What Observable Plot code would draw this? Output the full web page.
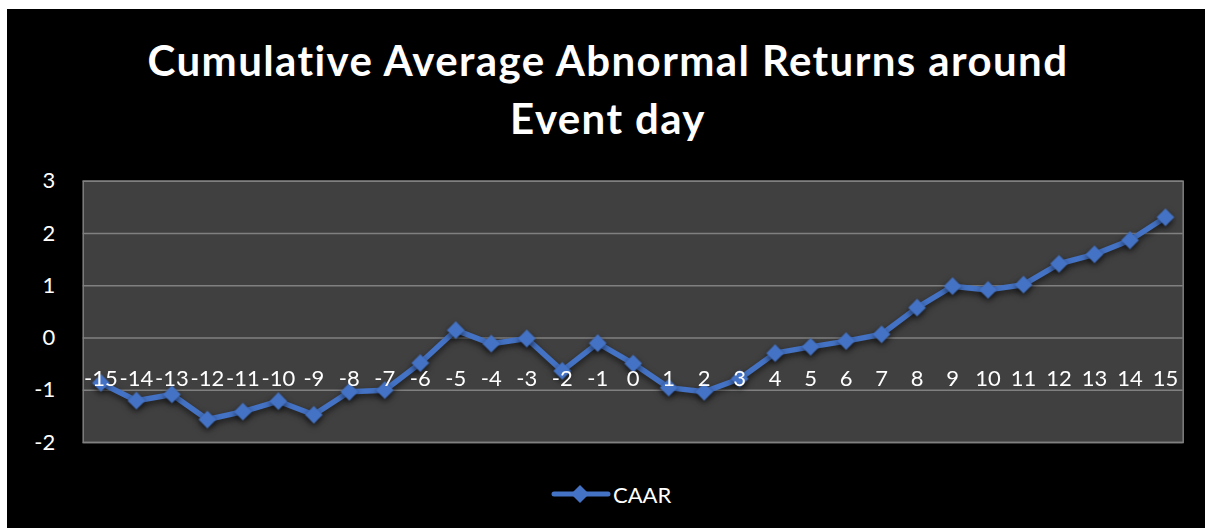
<!DOCTYPE html>
<html>
<head>
<meta charset="utf-8">
<script src="https://cdn.jsdelivr.net/npm/d3@7"></script>
<script src="https://cdn.jsdelivr.net/npm/@observablehq/plot@0.6"></script>
<style>
  html, body { margin: 0; padding: 0; background: #ffffff; }
  #page { position: relative; width: 1205px; height: 528px; overflow: hidden; background: #ffffff; }
  #bg { position: absolute; left: 7px; top: 9px; width: 1198px; height: 519px; background: #000000; }
  #title { position: absolute; left: 7px; width: 1202px; top: 31px; text-align: center;
           font-family: Lato, "Open Sans", sans-serif; font-weight: bold; font-size: 42px;
           letter-spacing: 1.4px; line-height: 58px; color: #ffffff; }
  #chart { position: absolute; left: 0; top: 0; }
  #legend { position: absolute; left: 551px; top: 480px; height: 28px; display: flex; align-items: center;
            font-family: Lato, "Open Sans", sans-serif; font-size: 22px; color: #ffffff; }
  #chart g[aria-label="line"], #chart g[aria-label="dot"] { filter: drop-shadow(0px 3px 3px rgba(0,0,0,0.6)); }
</style>
</head>
<body>
<div id="page">
  <div id="bg"></div>
  <div id="chart"></div>
  <div id="title">Cumulative Average Abnormal Returns around<br>Event day</div>
  <div id="legend"></div>
</div>
<script>
const days = [-15,-14,-13,-12,-11,-10,-9,-8,-7,-6,-5,-4,-3,-2,-1,0,1,2,3,4,5,6,7,8,9,10,11,12,13,14,15];
const caar = [-0.86,-1.20,-1.08,-1.56,-1.41,-1.21,-1.47,-1.03,-1.00,-0.48,0.15,-0.11,-0.01,-0.63,-0.10,-0.49,-0.95,-1.03,-0.78,-0.29,-0.17,-0.06,0.07,0.58,0.99,0.92,1.02,1.42,1.60,1.87,2.31];
const yTicks = [-2,-1,0,1,2,3];
const seriesName = "CAAR";
const lineColor = "#4472C4";

const data = days.map((d, i) => ({day: d, value: caar[i]}));
const plainNum = d => String(d);

const chart = Plot.plot({
  width: 1205,
  height: 528,
  marginTop: 180.7,
  marginBottom: 86,
  marginLeft: 82.7,
  marginRight: 22.3,
  style: { background: "transparent", fontFamily: "Lato, 'Open Sans', sans-serif", fontSize: "22px", color: "#ffffff" },
  x: { type: "point", domain: days, padding: 0.5, round: false },
  y: { domain: [-2, 3], ticks: yTicks },
  marks: [
    Plot.frame({ fill: "#404040", stroke: "#7f7f7f", strokeWidth: 1.5 }),
    Plot.gridY(yTicks, { stroke: "#808080", strokeOpacity: 1, strokeWidth: 1.5 }),
    Plot.axisY(yTicks, { tickSize: 0, tickPadding: 28, fill: "#ffffff", fontSize: 22, label: null, tickFormat: plainNum }),
    Plot.line(data, { x: "day", y: "value", stroke: lineColor, strokeWidth: 5.5, strokeLinejoin: "round" }),
    Plot.dot(data, { x: "day", y: "value", symbol: "diamond2", r: 8, fill: lineColor, stroke: "none" }),
    Plot.axisX(days, { tickSize: 0, tickPadding: 0, dy: -72, fill: "#ffffff", fontSize: 22, label: null, tickFormat: plainNum })
  ]
});
document.getElementById("chart").appendChild(chart);

const leg = document.getElementById("legend");
leg.innerHTML = `<svg width="60" height="28" style="display:block">
  <line x1="3" y1="14" x2="57" y2="14" stroke="${lineColor}" stroke-width="5" stroke-linecap="round"/>
  <path d="M29,5 L38,14 L29,23 L20,14 Z" fill="${lineColor}"/>
</svg><span style="margin-left:2px">${seriesName}</span>`;
</script>
</body>
</html>
